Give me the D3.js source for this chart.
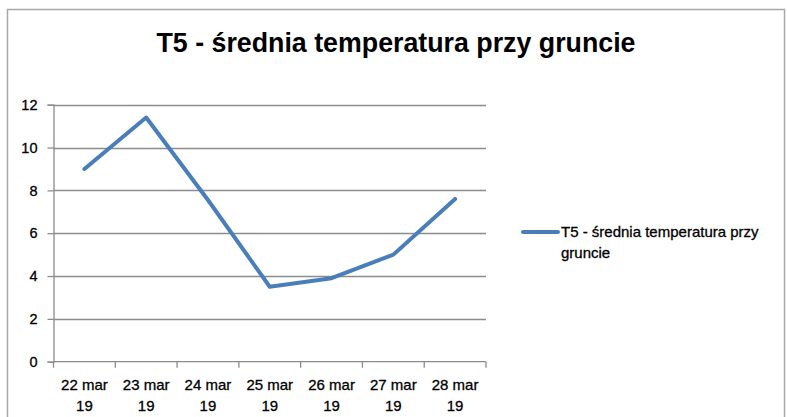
<!DOCTYPE html>
<html>
<head>
<meta charset="utf-8">
<script src="https://cdn.jsdelivr.net/npm/d3@7"></script>
<style>
  body { margin: 0; background: #fff; }
  text { font-family: "Liberation Sans", Arial, sans-serif; }
</style>
</head>
<body>
<svg id="chart" width="787" height="417"></svg>
<script>
const title = "T5 - średnia temperatura przy gruncie";
const seriesName = "T5 - średnia temperatura przy gruncie";
const categories = ["22 mar 19", "23 mar 19", "24 mar 19", "25 mar 19", "26 mar 19", "27 mar 19", "28 mar 19"];
const values = [9.0, 11.4, 7.55, 3.5, 3.9, 5.0, 7.6];
const yTicks = [0, 2, 4, 6, 8, 10, 12];

const width = 787, height = 417;
const margin = { top: 104.7, right: 301, bottom: 55.3, left: 53.5 };
const lineColor = "#4a7ebb";
const gridColor = "#8c8c8c";

const svg = d3.select("#chart");

// outer chart frame
svg.append("rect")
  .attr("x", 7.5).attr("y", 9.5)
  .attr("width", 777).attr("height", 420)
  .attr("fill", "#fff")
  .attr("stroke", "#a6a6a6")
  .attr("stroke-width", 1.5);

svg.append("text")
  .attr("x", 396).attr("y", 52)
  .attr("text-anchor", "middle")
  .attr("font-size", 27)
  .attr("font-weight", "bold")
  .attr("textLength", 479)
  .attr("lengthAdjust", "spacingAndGlyphs")
  .text(title);

const x = d3.scaleBand()
  .domain(categories)
  .range([margin.left, width - margin.right]);

const y = d3.scaleLinear()
  .domain([0, 12])
  .range([height - margin.bottom, margin.top]);

// horizontal gridlines
svg.append("g")
  .selectAll("line")
  .data(yTicks.filter(d => d > 0))
  .join("line")
  .attr("x1", margin.left).attr("x2", width - margin.right)
  .attr("y1", d => Math.round(y(d)) + 0.5).attr("y2", d => Math.round(y(d)) + 0.5)
  .attr("stroke", gridColor)
  .attr("stroke-width", 1.3);

// y axis
const yAxis = g => g
  .attr("transform", `translate(${margin.left},0)`)
  .call(d3.axisLeft(y).tickValues(yTicks).tickSize(6).tickPadding(10))
  .call(g => g.selectAll("path, line").attr("stroke", gridColor).attr("stroke-width", 1.3))
  .call(g => g.selectAll("text")
    .attr("fill", "#000").attr("stroke", "#000").attr("stroke-width", 0.3)
    .attr("font-size", 14.5).attr("font-family", null));
svg.append("g").call(yAxis);

// x axis: baseline + ticks on band boundaries
const xBase = y(0);
svg.append("line")
  .attr("x1", margin.left).attr("x2", width - margin.right)
  .attr("y1", xBase).attr("y2", xBase)
  .attr("stroke", gridColor).attr("stroke-width", 1.3);

const bounds = categories.map(d => x(d)).concat([x.range()[1]]);
svg.append("g")
  .selectAll("line")
  .data(bounds)
  .join("line")
  .attr("x1", d => d).attr("x2", d => d)
  .attr("y1", xBase).attr("y2", xBase + 6)
  .attr("stroke", gridColor).attr("stroke-width", 1.3);

const xLabels = svg.append("g")
  .selectAll("text")
  .data(categories)
  .join("text")
  .attr("x", d => x(d) + x.bandwidth() / 2)
  .attr("text-anchor", "middle")
  .attr("font-size", 15)
  .attr("fill", "#000").attr("stroke", "#000").attr("stroke-width", 0.3);
xLabels.append("tspan")
  .attr("x", d => x(d) + x.bandwidth() / 2)
  .attr("y", 390)
  .text(d => d.split(" ").slice(0, 2).join(" "));
xLabels.append("tspan")
  .attr("x", d => x(d) + x.bandwidth() / 2)
  .attr("y", 411)
  .text(d => d.split(" ")[2]);

// series line
const line = d3.line()
  .x((d, i) => x(categories[i]) + x.bandwidth() / 2)
  .y(d => y(d));

svg.append("path")
  .datum(values)
  .attr("d", line)
  .attr("fill", "none")
  .attr("stroke", lineColor)
  .attr("stroke-width", 4)
  .attr("stroke-linejoin", "round")
  .attr("stroke-linecap", "round");

// legend
const legend = svg.append("g").attr("transform", "translate(523,232)");
legend.append("line")
  .attr("x1", 0).attr("x2", 35)
  .attr("stroke", lineColor)
  .attr("stroke-width", 4)
  .attr("stroke-linecap", "round");
const words = seriesName.split(" ");
const legendText = legend.append("text")
  .attr("font-size", 15)
  .attr("fill", "#000").attr("stroke", "#000").attr("stroke-width", 0.3);
legendText.append("tspan").attr("x", 38).attr("y", 5).text(words.slice(0, -1).join(" "));
legendText.append("tspan").attr("x", 38).attr("y", 26).text(words[words.length - 1]);
</script>
</body>
</html>
